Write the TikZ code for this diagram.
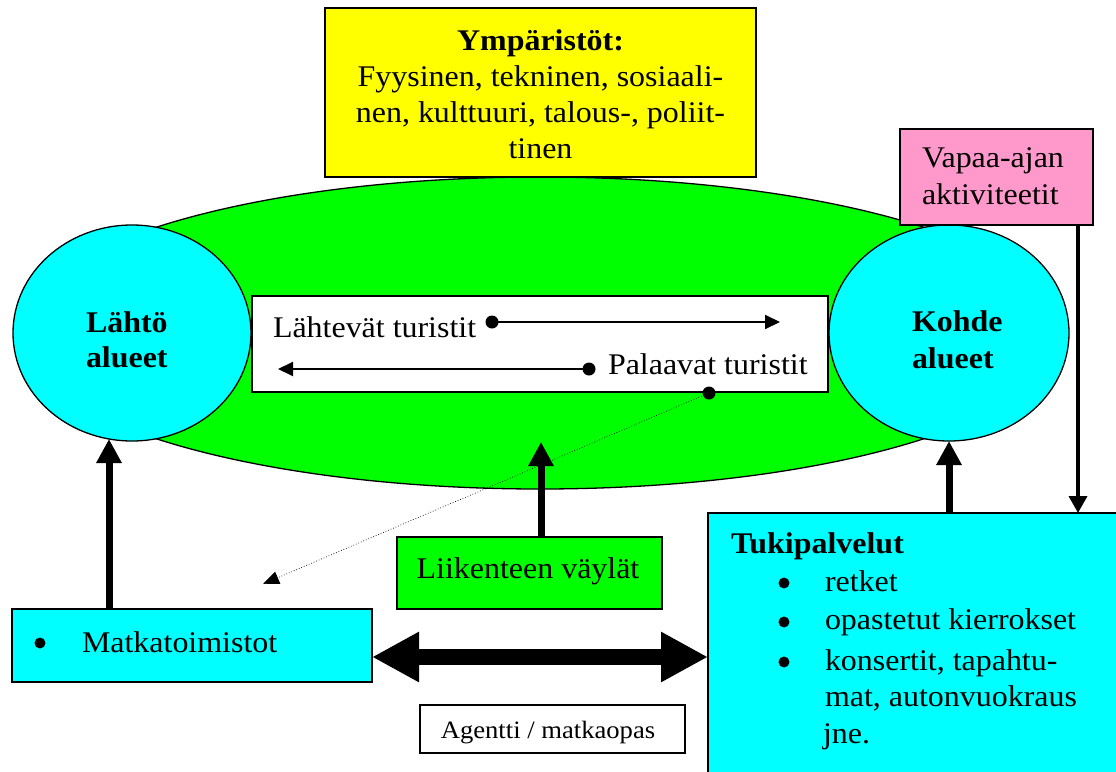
\documentclass[tikz,border=0pt]{standalone}
\usepackage{fontspec}
\setmainfont{Liberation Serif}[FakeStretch=1.065]
\usetikzlibrary{shapes.geometric,arrows.meta}
\definecolor{yel}{HTML}{FFFF00}
\definecolor{grn}{HTML}{00FF00}
\definecolor{cya}{HTML}{00FFFF}
\definecolor{pnk}{HTML}{FF99CC}
\newcommand\fbig{\fontsize{30}{36}\selectfont}
\newcommand\fsml{\fontsize{25}{30}\selectfont}
\begin{document}
\begin{tikzpicture}[x=1pt,y=-1pt,
 box/.style={draw=black,line width=1.3pt,inner sep=0,outer sep=0,anchor=north west},
 oval/.style={draw=black,line width=1.3pt,ellipse,inner sep=0,outer sep=0},
 lbl/.style={inner sep=0,outer sep=0,font=\fbig},
 lblw/.style={lbl,anchor=base west},
 lblc/.style={lbl,anchor=base},
 dotn/.style={circle,fill=black,inner sep=0,outer sep=0,minimum size=13pt},
 bul/.style={circle,fill=black,inner sep=0,outer sep=0,minimum size=11pt},
 bigarr/.style={line width=7pt,-{Triangle[width=24pt,length=24pt]}},
 pinkarr/.style={line width=3.5pt,-{Triangle[width=18pt,length=17pt]}},
 smallarr/.style={line width=2pt,-{Triangle[width=14pt,length=15pt]}},
 dotarr/.style={line width=0.7pt,dotted,-{Triangle[width=13pt,length=16pt]}},
 dblarr/.style={line width=16pt,{Triangle[width=47pt,length=47pt]}-{Triangle[width=47pt,length=47pt]}}
]
\clip (0,0) rectangle (1116,771);
\fill[white] (0,0) rectangle (1116,771);

% big green oval
\node[oval,fill=grn,minimum width=1044pt,minimum height=312pt] (oval) at (540,333) {};

% environment box
\node[box,fill=yel,minimum width=431pt,minimum height=169pt] (env) at (325,8) {};
\node[lblc,font=\fbig\bfseries] (envh) at (540.5,50) {Ympäristöt:};
\node[lblc] (env1) at (540.5,86) {Fyysinen, tekninen, sosiaali-};
\node[lblc] (env2) at (540.5,122) {nen, kulttuuri, talous-, poliit-};
\node[lblc] (env3) at (540.5,158) {tinen};

% circles
\node[oval,fill=cya,minimum width=238pt,minimum height=216pt] (lc) at (132,333) {};
\node[lblw,font=\fbig\bfseries] (lc1) at (86,332) {Lähtö};
\node[lblw,font=\fbig\bfseries] (lc2) at (86,367) {alueet};
\node[oval,fill=cya,minimum width=240pt,minimum height=216pt] (rc) at (949,333) {};
\node[lblw,font=\fbig\bfseries] (rc1) at (912,331) {Kohde};
\node[lblw,font=\fbig\bfseries] (rc2) at (912,368) {alueet};

% white flow box
\node[box,fill=white,minimum width=576pt,minimum height=96pt] (flow) at (252,296) {};
\node[lblw] (lt) at (273,337) {Lähtevät turistit};
\node[dotn] (d1) at (492,322) {};
\coordinate (a1) at (780,322);
\draw[smallarr] (d1.center) -- (a1);
\node[lblw] (pt) at (608,374) {Palaavat turistit};
\node[dotn] (d2) at (589,369) {};
\coordinate (a2) at (278,369);
\draw[smallarr] (d2.center) -- (a2);
\node[dotn] (d3) at (709,393) {};
\coordinate (a3) at (263,584);
\draw[dotarr] (d3.center) -- (a3);

% pink box
\node[box,fill=pnk,minimum width=193pt,minimum height=96pt] (pink) at (900,129) {};
\node[lblw] (pk1) at (922,167) {Vapaa-ajan};
\node[lblw] (pk2) at (922,204) {aktiviteetit};

% support services box
\node[box,fill=cya,minimum width=430pt,minimum height=290pt] (tuki) at (708,513) {};
\node[lblw,font=\fbig\bfseries] (tk0) at (731,553) {Tukipalvelut};
\node[bul] (b1) at (784,583) {};
\node[bul] (b2) at (784,622) {};
\node[bul] (b3) at (784,662) {};
\node[lblw] (tk1) at (825,591) {retket};
\node[lblw] (tk2) at (825,629) {opastetut kierrokset};
\node[lblw] (tk3) at (825,670) {konsertit, tapahtu-};
\node[lblw] (tk4) at (825,706) {mat, autonvuokraus};
\node[lblw] (tk5) at (823,743) {jne.};

% pink arrow
\coordinate (px) at (1078,0);
\draw[pinkarr] (pink.south -| px) -- (tuki.north -| px);

% travel agencies
\node[box,fill=cya,minimum width=360pt,minimum height=73pt] (mat) at (12,609) {};
\node[bul] (bm) at (40,643) {};
\node[lblw] (matt) at (82,652) {Matkatoimistot};

% transport routes
\node[box,fill=grn,minimum width=265pt,minimum height=72pt] (lv) at (397,537) {};
\node[lblc] (lvt) at (528,578) {Liikenteen väylät};

% agent box
\node[box,fill=white,minimum width=265pt,minimum height=48pt] (ag) at (420,705) {};
\node[lblc,font=\fsml] (agt) at (548,738) {Agentti / matkaopas};

% thick arrows
\coordinate (lx) at (109,0);
\draw[bigarr] (mat.north -| lx) -- ([yshift=2pt]lc.south -| lx);
\coordinate (mx) at (541,442);
\draw[bigarr] (lv.north -| mx) -- (mx);
\draw[bigarr] (tuki.north -| rc.south) -- (rc.south);

% double arrow
\coordinate (dl) at ([yshift=-11.5pt]mat.east);
\draw[dblarr] (dl) -- (dl -| tuki.west);
\end{tikzpicture}
\end{document}
